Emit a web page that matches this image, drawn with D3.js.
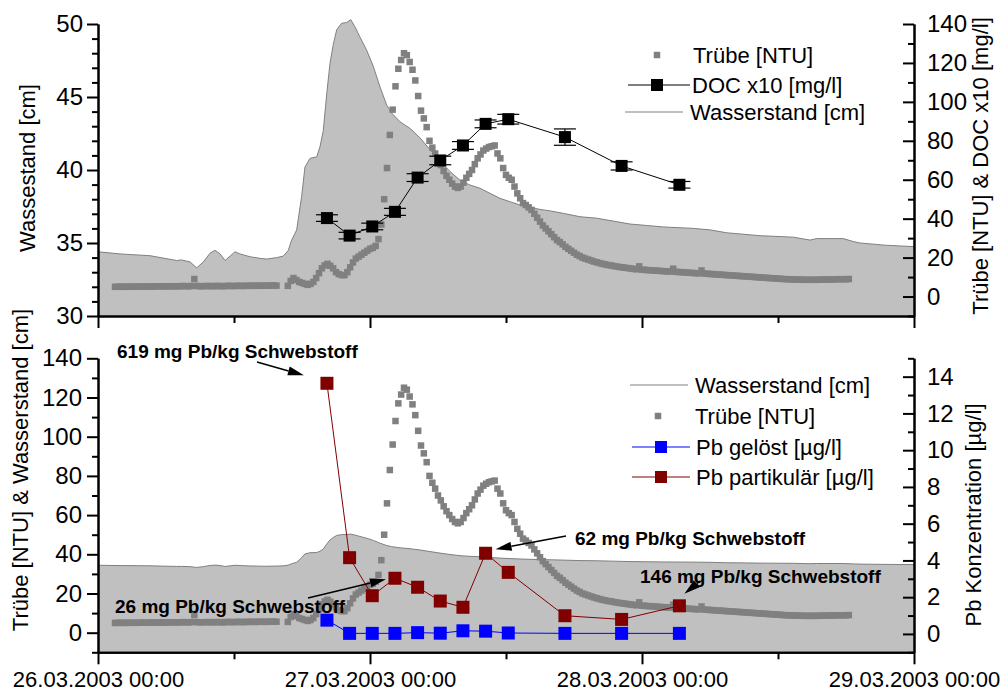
<!DOCTYPE html>
<html>
<head>
<meta charset="utf-8">
<script src="https://cdn.jsdelivr.net/npm/d3@7"></script>
<style>
  body { margin: 0; background: #fff; }
  svg { display: block; font-family: "Liberation Sans", Arial, sans-serif; }
</style>
</head>
<body>
<svg id="chart" width="1006" height="693"></svg>
<script>
const START = new Date(2003, 2, 26, 0, 0);
const END = new Date(2003, 2, 29, 0, 0);

// Wasserstand: hours after 26.03.2003 00:00, level in cm
const wsHours = [0, 1.94, 4.59, 6.94, 7.38, 8.12, 8.71, 9.29, 9.88, 10.32,
  10.76, 11.21, 11.65, 12.09, 12.53, 13.41, 14.29, 14.89, 15.77, 16.35,
  16.79, 17.09, 17.53, 17.97, 18.26, 18.71, 19.3, 19.59, 19.88, 20.18,
  20.47, 20.76, 21.06, 21.5, 21.94, 22.3, 22.68, 23.12, 23.71, 24.29,
  24.88, 25.47, 25.91, 26.65, 27.53, 28.41, 29.29, 30.18, 31.06, 31.94,
  32.82, 33.71, 34.59, 35.47, 36.35, 37.24, 38.12, 39, 39.88, 41.06,
  42.53, 44, 45.47, 46.94, 48.41, 49.88, 52.53, 54, 55.47, 58.41,
  61.35, 62.82, 63.41, 65.76, 66.65, 67.24, 69.45, 72];
const wsLevel = [34.4, 34.25, 34.13, 33.8, 33.84, 33.7, 33.3, 33.7, 34.3, 34.5,
  34.27, 33.8, 34.1, 34.4, 34.25, 34.06, 33.95, 33.9, 34.0, 34.1,
  34.5, 35.2, 35.9, 38.2, 40.2, 40.8, 40.9, 41.6, 42.7, 45.2,
  47.3, 48.6, 49.6, 50.05, 50.1, 50.3, 49.8, 49.1, 48.2, 47.1,
  45.7, 44.45, 43.9, 43.3, 42.85, 42.2, 41.4, 40.6, 39.9, 39.3,
  38.97, 38.75, 38.4, 38.06, 37.83, 37.6, 37.45, 37.3, 37.2, 37.03,
  36.8, 36.7, 36.5, 36.3, 36.2, 36.1, 36.0, 35.9, 35.7, 35.5,
  35.4, 35.2, 35.3, 35.3, 35.1, 35.0, 34.85, 34.75];

// Trübe [NTU], logged every 15 min starting 01:30 (null = no reading)
const turbStartHour = 1.5;
const turbStepHour = 0.25;
const turbidity = [
  5.0, 5.0, 5.1, 5.0, 5.0, 5.1, 5.1, 5.0, 5.1, 5.2, 5.1, 5.1, 5.2, 5.2, 5.1, 5.2, 5.3, 5.2, 5.2, 5.3,
  5.3, 5.2, 5.3, 5.3, 5.4, 5.3, 5.3, 5.4, 9.0,
  5.4, 5.3, 5.3, 5.4, 5.4, 5.3, 5.4, 5.4, 5.4, 5.3, 5.4, 5.5, 5.4, 5.4, 5.5, 5.5, 5.4, 5.5, 5.5, 5.6,
  5.5, 5.5, 5.6, 5.6, 5.5, 5.6, 5.6, 5.7, 5.6,
  null, null, null,
  5.5, 8, 9.5, 8.5, 7.5, 7, 6.5, 6, 6.5, 7.5,
  9.5, 12, 14.5, 16, 16.8, 15.8, 14.5, 12.5, 11.5, 11,
  11, 12.5, 15, 17.5, 19.5, 20.5, 21.5, 22.5, 23.5, 24.5,
  25, 26, 29.5, 37, 50, 66, 83, 96, 108, 117,
  121.5, 125, 124, 120.5, 116.5, 111, 103,
  95.5, 91.5, 87, 80, 76.5, 73.5, 70, 67.5, 64.5, 62,
  60, 58, 56.5, 55.8, 56.5, 58.5, 61, 63, 65, 68,
  71, 73, 75, 76, 76.8, 77.2, 77.6, 73.5, 71, 66,
  62.5, 61, 60, 56.5, 53, 50.5, 48, 47, 45.8, 44.5,
  42.5, 40.5, 38.5, 36.5, 35, 33.5, 32, 30.5, 29, 28,
  26.8, 25.5, 24.5, 23.5, 22.5, 21.5, 20.8, 20, 19.5, 19,
  18.5, 18, 17.6, 17.2, 16.8, 16.5, 16.2, 16, 15.7, 15.4,
  15.2, 15, 14.8, 14.6, 14.4, 14.2, 14, 15.5, 13.8, 13.7,
  13.6, 13.5, 13.4, 13.3, 13.2, 13.1, 13, 12.9, 12.8, 14.3,
  12.7, 12.6, 12.5, 12.4, 12.3, 12.2, 12.1, 12, 11.9, 13.4,
  11.8, 11.7, 11.6, 11.5, 11.4, 11.3, 11.2, 11.1, 11, 10.9,
  10.8, 10.7, 10.6, 10.5, 10.4, 10.3, 10.2, 10.1, 10, 9.9,
  9.8, 9.7, 9.6, 9.5, 9.4, 9.3, 9.2, 9.1, 9.0, 8.9,
  8.9, 8.8, 8.8, 8.7, 8.7, 8.6, 8.6, 8.6, 8.6, 8.6,
  8.6, 8.7, 8.7, 8.7, 8.8, 8.8, 8.8, 8.9, 8.9, 8.9,
  8.9, 9.0];

// water samples
const sampleHours = [20.2, 22.2, 24.2, 26.2, 28.2, 30.2, 32.2, 34.2, 36.2, 41.2, 46.2, 51.3];
const docX10 = [40.3, 31.3, 36.0, 43.5, 61.1, 69.9, 77.6, 88.7, 91.1, 81.9, 67.1, 57.4];
const docErr = [1.7, 1.7, 1.7, 1.8, 2.0, 2.2, 2.0, 2.0, 2.5, 4.2, 2.1, 1.7];
const pbDissolved = [0.75, 0.03, 0.03, 0.03, 0.07, 0.04, 0.17, 0.15, 0.05, 0.03, 0.03, 0.03];
const pbParticulate = [13.64, 4.15, 2.08, 3.03, 2.54, 1.79, 1.45, 4.39, 3.35, 0.99, 0.79, 1.53];

const wsTicks = [30, 35, 40, 45, 50];
const topRightTicks = [0, 20, 40, 60, 80, 100, 120, 140];
const botLeftTicks = [0, 20, 40, 60, 80, 100, 120, 140];
const botRightTicks = [0, 2, 4, 6, 8, 10, 12, 14];

// annotation labels, each pointing at one Pb partikulär sample
const annotations = [
  { label: '619 mg Pb/kg Schwebstoff', i: 0, tx: 117, ty: 358, x0: 257, y0: 362, dx: -23, dy: -8 },
  { label: '26 mg Pb/kg Schwebstoff', i: 3, tx: 115, ty: 613, x0: 308, y0: 598, dx: -9, dy: 1 },
  { label: '62 mg Pb/kg Schwebstoff', i: 7, tx: 575, ty: 545, x0: 566, y0: 536, dx: 10, dy: -4 },
  { label: '146 mg Pb/kg Schwebstoff', i: 11, tx: 640, ty: 583, x0: 700, y0: 581, dx: 5, dy: -12 },
];

const hourDate = (h) => new Date(START.getTime() + h * 3600e3);
const wsData = wsHours.map((h, i) => ({ t: hourDate(h), v: wsLevel[i] }));
const turbData = turbidity
  .map((v, i) => ({ t: hourDate(turbStartHour + i * turbStepHour), v }))
  .filter((d) => d.v != null);
const samples = sampleHours.map((h, i) => ({
  t: hourDate(h), doc: docX10[i], err: docErr[i], pbd: pbDissolved[i], pbp: pbParticulate[i],
}));

const svg = d3.select('#chart');
const X0 = 98, X1 = 914;
const T0 = 24, T1 = 316;
const B0 = 358.3, B1 = 652.3;
const GRAY = '#808080', FILL = '#c0c0c0', RED = '#800000', BLUE = '#0000ff';

const x = d3.scaleTime().domain([START, END]).range([X0, X1]);
const yWs = d3.scaleLinear().domain([30, 50]).range([T1, T0]);
const yTopR = d3.scaleLinear().domain([-10, 140]).range([T1, T0]);
const yBotL = d3.scaleLinear().domain([-10, 140]).range([B1, B0]);
const yBotR = d3.scaleLinear().domain([-1, 15]).range([B1, B0]);

function squares(g, data, cx, cy, size, color) {
  g.append('g')
    .selectAll('rect')
    .data(data)
    .join('rect')
    .attr('x', (d) => cx(d) - size / 2)
    .attr('y', (d) => cy(d) - size / 2)
    .attr('width', size)
    .attr('height', size)
    .attr('fill', color);
}

function waterLevel(g, y, base) {
  g.append('path')
    .datum(wsData)
    .attr('fill', FILL)
    .attr('d', d3.area().x((d) => x(d.t)).y0(base).y1((d) => y(d.v)));
  g.append('path')
    .datum(wsData)
    .attr('fill', 'none')
    .attr('stroke', GRAY)
    .attr('stroke-width', 1)
    .attr('d', d3.line().x((d) => x(d.t)).y((d) => y(d.v)));
}

// ---- top panel ----
const topPanel = svg.append('g');
waterLevel(topPanel, yWs, T1);
squares(topPanel, turbData, (d) => x(d.t), (d) => yTopR(d.v), 6.5, GRAY);
topPanel.append('path')
  .datum(samples)
  .attr('fill', 'none')
  .attr('stroke', '#000')
  .attr('stroke-width', 1)
  .attr('d', d3.line().x((d) => x(d.t)).y((d) => yTopR(d.doc)));
const err = topPanel.append('g').attr('stroke', '#000').attr('stroke-width', 1.2);
samples.forEach((d) => {
  const cx = x(d.t);
  err.append('line').attr('x1', cx).attr('x2', cx)
    .attr('y1', yTopR(d.doc - d.err)).attr('y2', yTopR(d.doc + d.err));
  [d.doc - d.err, d.doc + d.err].forEach((v) => {
    err.append('line').attr('x1', cx - 11).attr('x2', cx + 11)
      .attr('y1', yTopR(v)).attr('y2', yTopR(v));
  });
});
squares(topPanel, samples, (d) => x(d.t), (d) => yTopR(d.doc), 12, '#000');

// ---- bottom panel ----
const botPanel = svg.append('g');
waterLevel(botPanel, yBotL, B1);
squares(botPanel, turbData, (d) => x(d.t), (d) => yBotL(d.v), 6.5, GRAY);
[['pbd', BLUE], ['pbp', RED]].forEach(([key, color]) => {
  botPanel.append('path')
    .datum(samples)
    .attr('fill', 'none')
    .attr('stroke', color)
    .attr('stroke-width', 1)
    .attr('d', d3.line().x((d) => x(d.t)).y((d) => yBotR(d[key])));
  squares(botPanel, samples, (d) => x(d.t), (d) => yBotR(d[key]), 13, color);
});

// annotations
const ann = svg.append('g');
annotations.forEach((a) => {
  const s = samples[a.i];
  const tx = x(s.t) + a.dx, ty = yBotR(s.pbp) + a.dy;
  const len = Math.hypot(tx - a.x0, ty - a.y0);
  const ux = (tx - a.x0) / len, uy = (ty - a.y0) / len;
  const hl = 16, hw = 4.5;
  const bx = tx - ux * hl, by = ty - uy * hl;
  ann.append('line')
    .attr('x1', a.x0).attr('y1', a.y0).attr('x2', bx).attr('y2', by)
    .attr('stroke', '#000').attr('stroke-width', 1.5);
  ann.append('path')
    .attr('d', `M${tx},${ty}L${bx - uy * hw},${by + ux * hw}L${bx + uy * hw},${by - ux * hw}Z`)
    .attr('fill', '#000');
  ann.append('text')
    .attr('x', a.tx).attr('y', a.ty)
    .attr('font-size', 19).attr('font-weight', 'bold')
    .text(a.label);
});

// ---- axes ----
function styleAxis(g, fontSize) {
  g.attr('font-family', null).attr('font-size', fontSize);
  g.selectAll('.domain, .tick line').attr('stroke', '#000').attr('stroke-width', 2);
  g.selectAll('.tick text').attr('fill', '#000');
}

function yAxes(scale, xpos, majors, step, left, pad) {
  const [lo, hi] = scale.domain();
  const minors = d3.range(lo, hi + 1e-9, step).filter((v) => !majors.includes(v));
  const make = left ? d3.axisLeft : d3.axisRight;
  const dir = left ? 1 : -1;
  svg.append('g')
    .attr('transform', `translate(${xpos},0)`)
    .call(make(scale).tickValues(minors).tickSize(6 * dir).tickSizeOuter(0).tickFormat(''))
    .call((g) => styleAxis(g, 24));
  svg.append('g')
    .attr('transform', `translate(${xpos},0)`)
    .call(make(scale).tickValues(majors).tickSize(11 * dir).tickSizeOuter(0).tickPadding(pad))
    .call((g) => styleAxis(g, 24));
}

yAxes(yWs, X0, wsTicks, 1, true, 4);
yAxes(yTopR, X1, topRightTicks, 10, false, 13);
yAxes(yBotL, X0, botLeftTicks, 10, true, 5);
yAxes(yBotR, X1, botRightTicks, 1, false, 13);

const dayTicks = d3.timeDay.range(START, d3.timeDay.offset(END, 1));
const halfDay = d3.timeHour.every(12).range(START, END).filter((d) => d.getHours() === 12);
const fmt = d3.timeFormat('%d.%m.%Y %H:%M');
[[T1, false], [B1, true]].forEach(([ypos, labels]) => {
  svg.append('g')
    .attr('transform', `translate(0,${ypos})`)
    .call(d3.axisBottom(x).tickValues(halfDay).tickSize(7).tickSizeOuter(0).tickFormat(''))
    .call((g) => styleAxis(g, 22));
  svg.append('g')
    .attr('transform', `translate(0,${ypos})`)
    .call(d3.axisBottom(x).tickValues(dayTicks).tickSize(12).tickSizeOuter(0)
      .tickPadding(7).tickFormat(labels ? fmt : ''))
    .call((g) => styleAxis(g, 22));
});

// axis titles
const titles = [
  { text: 'Wassestand [cm]', x: 35, y: 168 },
  { text: 'Trübe [NTU] & DOC x10 [mg/l]', x: 988, y: 166 },
  { text: 'Trübe [NTU] & Wasserstand [cm]', x: 28, y: 470 },
  { text: 'Pb Konzentration [µg/l]', x: 981, y: 515 },
];
svg.append('g')
  .selectAll('text')
  .data(titles)
  .join('text')
  .attr('transform', (d) => `translate(${d.x},${d.y}) rotate(-90)`)
  .attr('text-anchor', 'middle')
  .attr('font-size', 22)
  .text((d) => d.text);

// ---- legends ----
function legendItem(g, ly, label, opts) {
  if (opts.line) {
    g.append('line')
      .attr('x1', opts.line[0]).attr('x2', opts.line[1])
      .attr('y1', ly).attr('y2', ly)
      .attr('stroke', opts.lineColor).attr('stroke-width', 1);
  }
  if (opts.marker) {
    g.append('rect')
      .attr('x', opts.mx - opts.marker / 2).attr('y', ly - opts.marker / 2)
      .attr('width', opts.marker).attr('height', opts.marker)
      .attr('fill', opts.color);
  }
  g.append('text')
    .attr('x', opts.tx).attr('y', ly + 7.5)
    .attr('font-size', 22)
    .text(label);
}

const legTop = svg.append('g');
legendItem(legTop, 55, 'Trübe [NTU]', { marker: 6.5, mx: 657, color: GRAY, tx: 693 });
legendItem(legTop, 85, 'DOC x10 [mg/l]', { line: [628, 690], lineColor: '#000', marker: 12, mx: 657, color: '#000', tx: 692 });
legendItem(legTop, 112, 'Wasserstand [cm]', { line: [625, 683], lineColor: GRAY, tx: 690 });

const legBot = svg.append('g');
legendItem(legBot, 385, 'Wasserstand [cm]', { line: [630, 688], lineColor: GRAY, tx: 695 });
legendItem(legBot, 416, 'Trübe [NTU]', { marker: 6.5, mx: 658, color: GRAY, tx: 695 });
legendItem(legBot, 447, 'Pb gelöst [µg/l]', { line: [632, 690], lineColor: BLUE, marker: 12, mx: 661, color: BLUE, tx: 696 });
legendItem(legBot, 477, 'Pb partikulär [µg/l]', { line: [632, 690], lineColor: RED, marker: 12, mx: 661, color: RED, tx: 696 });
</script>
</body>
</html>
